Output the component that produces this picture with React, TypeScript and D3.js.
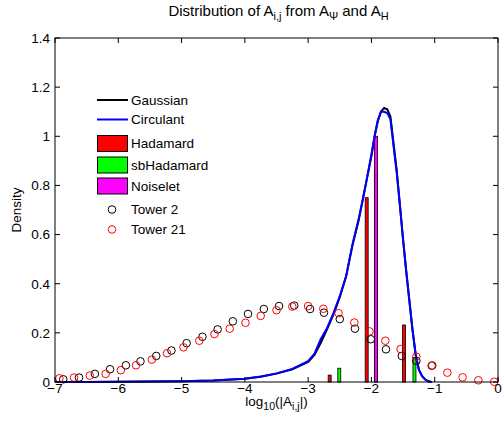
import React from "react";
import * as d3 from "d3";

const curveX = [-7, -6.5, -6, -5.5, -5, -4.5, -4, -3.75, -3.5, -3.25, -3, -2.9, -2.8, -2.7, -2.6, -2.5, -2.4, -2.3, -2.2, -2.1, -2.0, -1.95, -1.9, -1.85, -1.8, -1.75, -1.7, -1.65, -1.6, -1.55, -1.5, -1.45, -1.4, -1.35, -1.3, -1.25, -1.2, -1.15, -1.1, -1.05];
const gaussianY = [0, 0, 0.001, 0.002, 0.003, 0.006, 0.013, 0.021, 0.034, 0.052, 0.082, 0.11, 0.16, 0.215, 0.275, 0.345, 0.43, 0.555, 0.66, 0.79, 0.92, 1.0, 1.06, 1.1, 1.115, 1.11, 1.08, 0.97, 0.86, 0.72, 0.58, 0.45, 0.33, 0.21, 0.11, 0.05, 0.024, 0.01, 0.003, 0];
const circulantY = [0, 0, 0.001, 0.002, 0.003, 0.006, 0.013, 0.022, 0.035, 0.053, 0.085, 0.115, 0.175, 0.22, 0.28, 0.35, 0.43, 0.56, 0.665, 0.79, 0.925, 1.0, 1.065, 1.1, 1.1, 1.095, 1.07, 0.96, 0.85, 0.72, 0.58, 0.45, 0.33, 0.21, 0.11, 0.05, 0.025, 0.01, 0.003, 0];

const hadamardX = [-2.66, -2.075, -1.93, -1.486];
const hadamardY = [0.028, 0.75, 0.86, 0.232];
const sbHadamardX = [-2.508, -1.32];
const sbHadamardY = [0.056, 0.1];
const noiseletX = [-1.928];
const noiseletY = [1.0];

const tower2X = [-6.87, -6.62, -6.37, -6.13, -5.88, -5.65, -5.4, -5.16, -4.92, -4.67, -4.43, -4.19, -3.95, -3.7, -3.46, -3.22, -2.97, -2.75, -2.5, -2.26, -2.01, -1.77, -1.52, -1.29, -1.04];
const tower2Y = [0.011, 0.018, 0.033, 0.052, 0.068, 0.084, 0.106, 0.128, 0.158, 0.184, 0.214, 0.247, 0.277, 0.297, 0.309, 0.311, 0.297, 0.282, 0.256, 0.217, 0.174, 0.133, 0.106, 0.086, 0.067];
const tower21X = [-6.93, -6.7, -6.45, -6.2, -5.96, -5.72, -5.47, -5.23, -4.97, -4.72, -4.48, -4.24, -3.99, -3.75, -3.5, -3.25, -3.0, -2.76, -2.52, -2.27, -2.03, -1.78, -1.54, -1.29, -1.05, -0.8, -0.56, -0.31, -0.06];
const tower21Y = [0.015, 0.018, 0.026, 0.033, 0.048, 0.068, 0.091, 0.117, 0.141, 0.168, 0.195, 0.217, 0.241, 0.269, 0.292, 0.307, 0.309, 0.298, 0.28, 0.242, 0.206, 0.168, 0.134, 0.103, 0.066, 0.038, 0.019, 0.007, 0.001];

const xTicks = [-7, -6, -5, -4, -3, -2, -1, 0];
const yTicks = [0, 0.2, 0.4, 0.6, 0.8, 1, 1.2, 1.4];

const FONT = "'Liberation Sans', Arial, Helvetica, sans-serif";
const FS = 13.5;

export default function App() {
  const W = 502, H = 425;
  const L = 55, R = 498, T = 38, B = 382;
  const x = d3.scaleLinear().domain([-7, 0]).range([L, R]);
  const y = d3.scaleLinear().domain([0, 1.4]).range([B, T]);
  const line = d3.line<[number, number]>().x(d => x(d[0])).y(d => y(d[1]));
  const gaussPath = line(curveX.map((v, i) => [v, gaussianY[i]] as [number, number])) || "";
  const circPath = line(curveX.map((v, i) => [v, circulantY[i]] as [number, number])) || "";
  const barW = 3;
  const tickLen = 5;
  const fmtX = (v: number) => (v < 0 ? "\u2212" + Math.abs(v) : String(v));
  const fmtY = (v: number) => String(+v.toFixed(1));

  const bars = (xs: number[], ys: number[], fill: string, key: string) =>
    xs.map((v, i) => (
      <rect key={key + i} x={x(v) - barW / 2} y={y(ys[i])} width={barW} height={y(0) - y(ys[i])}
        fill={fill} stroke="#000" strokeWidth={0.8} />
    ));

  const legendItems = [
    { label: "Gaussian", type: "line", color: "#000", cy: 100 },
    { label: "Circulant", type: "line", color: "#0000ff", cy: 119.5 },
    { label: "Hadamard", type: "patch", color: "#ff0000", cy: 143.5 },
    { label: "sbHadamard", type: "patch", color: "#00ff00", cy: 165 },
    { label: "Noiselet", type: "patch", color: "#ff00ff", cy: 186 },
    { label: "Tower 2", type: "circle", color: "#000", cy: 209.5 },
    { label: "Tower 21", type: "circle", color: "#ff0000", cy: 229.5 },
  ];

  return (
    <svg width={W} height={H} style={{ position: "absolute", left: 0, top: 0, background: "#fff" }} fontFamily={FONT}>
      <rect x={0} y={0} width={W} height={H} fill="#fff" />
      {bars(hadamardX, hadamardY, "#ff0000", "h")}
      {bars(sbHadamardX, sbHadamardY, "#00ff00", "s")}
      {bars(noiseletX, noiseletY, "#ff00ff", "n")}
      <path d={gaussPath} fill="none" stroke="#000" strokeWidth={2} />
      <path d={circPath} fill="none" stroke="#0000ff" strokeWidth={2} />
      {tower2X.map((v, i) => (
        <circle key={"t2" + i} cx={x(v)} cy={y(tower2Y[i])} r={3.8} fill="none" stroke="#000" strokeWidth={1} />
      ))}
      {tower21X.map((v, i) => (
        <circle key={"t21" + i} cx={x(v)} cy={y(tower21Y[i])} r={3.8} fill="none" stroke="#ff0000" strokeWidth={1} />
      ))}
      <rect x={L} y={T} width={R - L} height={B - T} fill="none" stroke="#000" strokeWidth={1} />
      {xTicks.map(t => (
        <g key={"xt" + t}>
          <line x1={x(t)} x2={x(t)} y1={B} y2={B - tickLen} stroke="#000" />
          <line x1={x(t)} x2={x(t)} y1={T} y2={T + tickLen} stroke="#000" />
          <text x={x(t)} y={B + 11} fontSize={FS} textAnchor="middle">{fmtX(t)}</text>
        </g>
      ))}
      {yTicks.map(t => (
        <g key={"yt" + t}>
          <line x1={L} x2={L + tickLen} y1={y(t)} y2={y(t)} stroke="#000" />
          <line x1={R} x2={R - tickLen} y1={y(t)} y2={y(t)} stroke="#000" />
          <text x={L - 5} y={y(t) + 4.8} fontSize={FS} textAnchor="end">{fmtY(t)}</text>
        </g>
      ))}
      <text x={(L + R) / 2} y={406} fontSize={FS} textAnchor="middle">
        log<tspan dy={4} fontSize={10.5}>10</tspan><tspan dy={-4}>(|A</tspan><tspan dy={4} fontSize={10.5}>i,j</tspan><tspan dy={-4}>|)</tspan>
      </text>
      <text transform={`translate(21,${(T + B) / 2}) rotate(-90)`} fontSize={FS} textAnchor="middle">Density</text>
      <text x={(L + R) / 2 + 2} y={16} fontSize={15} textAnchor="middle">
        Distribution of A<tspan dy={4} fontSize={11}>i,j</tspan><tspan dy={-4}> from A</tspan><tspan dy={4} fontSize={11}>Ψ</tspan><tspan dy={-4}> and A</tspan><tspan dy={4} fontSize={11}>H</tspan>
      </text>
      {legendItems.map(it => (
        <g key={it.label}>
          {it.type === "line" && <line x1={97} x2={128} y1={it.cy} y2={it.cy} stroke={it.color} strokeWidth={2} />}
          {it.type === "patch" && <rect x={97.5} y={it.cy - 8} width={30} height={16} fill={it.color} stroke="#000" strokeWidth={1} />}
          {it.type === "circle" && <circle cx={112} cy={it.cy} r={3.8} fill="none" stroke={it.color} strokeWidth={1} />}
          <text x={131} y={it.cy + 4.8} fontSize={FS}>{it.label}</text>
        </g>
      ))}
    </svg>
  );
}
